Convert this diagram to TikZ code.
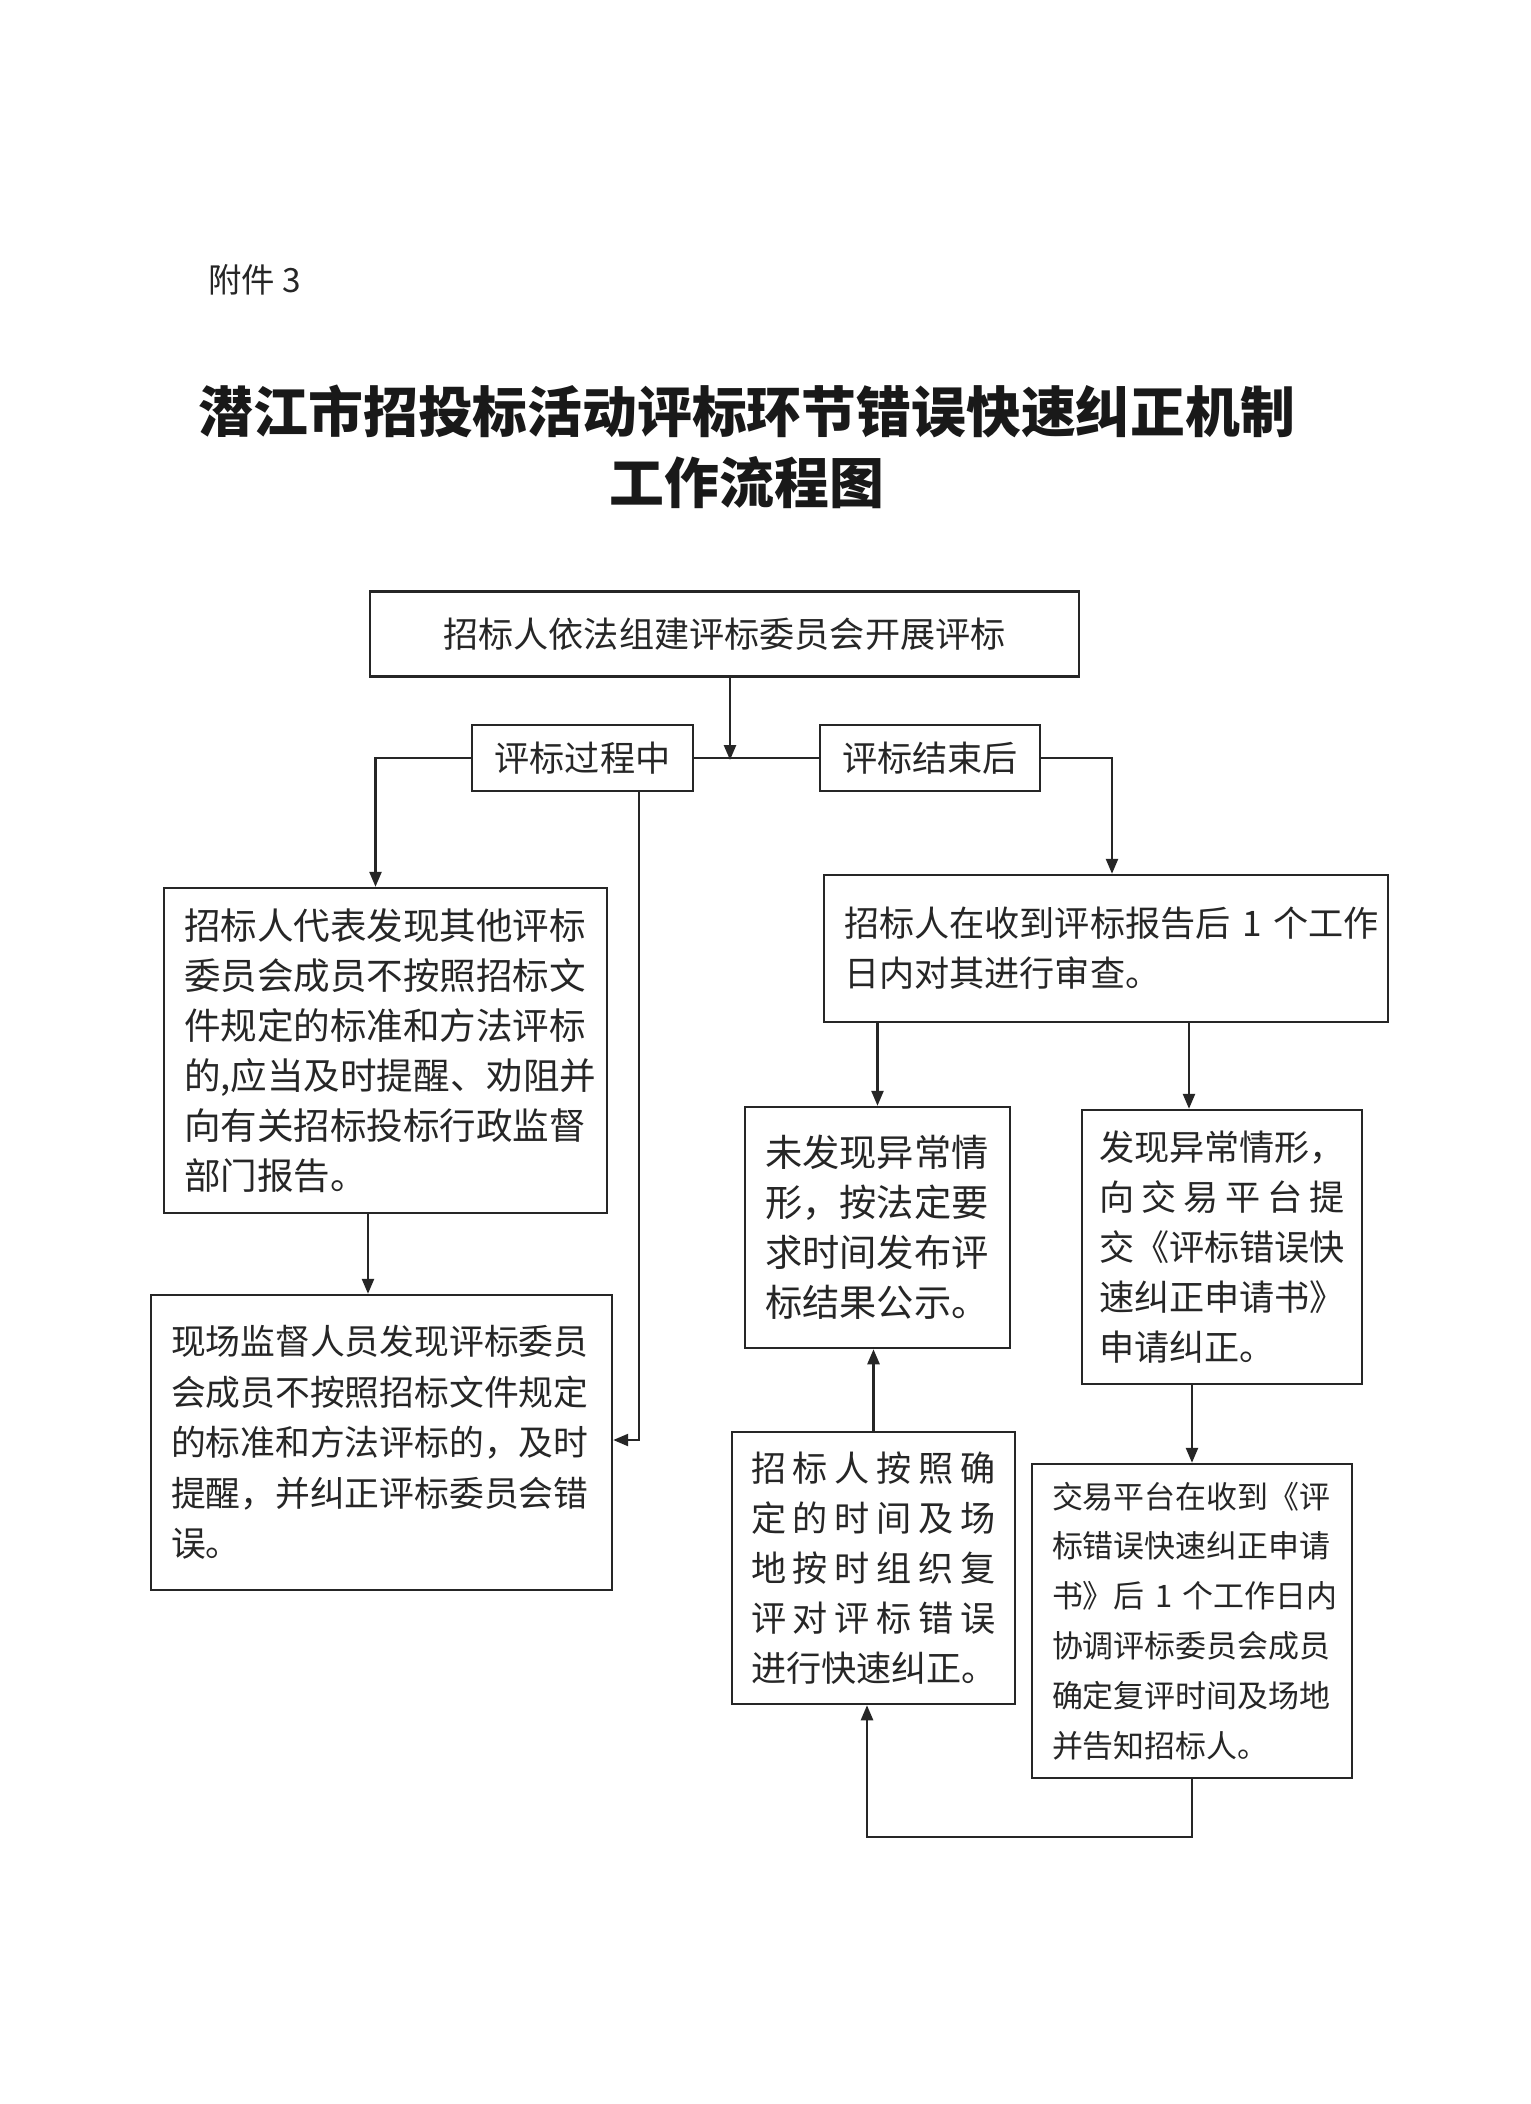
\documentclass[tikz,border=0pt]{standalone}
\usepackage{fontspec}
\setmainfont{Noto Sans CJK SC}
\usetikzlibrary{arrows.meta,positioning}

\tikzset{
  flowbox/.style={draw=black!85, line width=0.7pt, align=left, inner xsep=2mm, text=black!85,
                  font=\fontsize{10pt}{14.2pt}\selectfont},
  flowline/.style={draw=black!85, line width=0.7pt},
  flowarrow/.style={flowline, -{Triangle[length=1.5mm,width=1.2mm]}},
}
\newcommand{\spreadline}[2]{\makebox[#1][s]{#2}}

\begin{document}
\begin{tikzpicture}[x=0.1mm, y=-0.1mm]
  \fill[white] (0,0) rectangle (1530,2104);
  \useasboundingbox (0,0) rectangle (1530,2104);
  % Heading
  \node[anchor=west, text=black!85, font=\fontsize{9.5pt}{12pt}\selectfont] (annex) at (196,280) {附件 3};
  \node[align=center, text=black!90, font=\bfseries\fontsize{15.6pt}{20.2pt}\selectfont] (title) at (747,447)
        {潜江市招投标活动评标环节错误快速纠正机制\\工作流程图};
  % Start and the two phases
  \node[flowbox, align=center, minimum width=70.9mm, minimum height=8.5mm] (start) at (724.5,634)
        {招标人依法组建评标委员会开展评标};
  \node[flowbox, align=center, inner xsep=0pt, minimum width=22.1mm, minimum height=6.6mm] (during) at (582.5,758) {评标过程中};
  \node[flowbox, align=center, inner xsep=0pt, minimum width=22mm, minimum height=6.6mm] (after) at (930,758) {评标结束后};
  % Left branch
  \node[flowbox, minimum width=44.3mm, minimum height=32.5mm, text width=40.3mm,
        font=\fontsize{10.4pt}{14.2pt}\selectfont] (inspect) at (385.5,1050.5)
        {招标人代表发现其他评标\\委员会成员不按照招标文\\件规定的标准和方法评标\\的,应当及时提醒、劝阻并\\向有关招标投标行政监督\\部门报告。};
  \node[flowbox, minimum width=46.1mm, minimum height=29.5mm, text width=42.1mm,
        font=\fontsize{9.9pt}{14.4pt}\selectfont] (onsite) at (381.5,1442.5)
        {现场监督人员发现评标委员\\会成员不按照招标文件规定\\的标准和方法评标的，及时\\提醒，并纠正评标委员会错\\误。};
  % Right branch
  \node[flowbox, minimum width=56.4mm, minimum height=14.7mm, text width=52.4mm] (review) at (1106,948.5)
        {招标人在收到评标报告后~1~个工作\\日内对其进行审查。};
  \node[flowbox, minimum width=26.3mm, minimum height=24.1mm, text width=22.5mm,
        font=\fontsize{10.6pt}{14.2pt}\selectfont] (publish) at (877.5,1227.5)
        {未发现异常情\\形，按法定要\\求时间发布评\\标结果公示。};
  \node[flowbox, inner xsep=1.7mm, minimum width=28mm, minimum height=27.4mm, text width=24.6mm] (apply) at (1222,1247)
        {发现异常情形，\\\spreadline{24.6mm}{向\hfil 交\hfil 易\hfil 平\hfil 台\hfil 提}\\交《评标错误快\\速纠正申请书》\\申请纠正。};
  \node[flowbox, minimum width=32mm, minimum height=31.4mm, text width=28mm,
        font=\fontsize{8.8pt}{14.2pt}\selectfont] (arrange) at (1192,1621)
        {交易平台在收到《评\\标错误快速纠正申请\\书》后~1~个工作日内\\协调评标委员会成员\\确定复评时间及场地\\并告知招标人。};
  \node[flowbox, inner xsep=1.9mm, minimum width=28.3mm, minimum height=27.2mm, text width=24.5mm] (recheck) at (873.5,1568)
        {\spreadline{24.5mm}{招\hfil 标\hfil 人\hfil 按\hfil 照\hfil 确}\\
         \spreadline{24.5mm}{定\hfil 的\hfil 时\hfil 间\hfil 及\hfil 场}\\
         \spreadline{24.5mm}{地\hfil 按\hfil 时\hfil 组\hfil 织\hfil 复}\\
         \spreadline{24.5mm}{评\hfil 对\hfil 评\hfil 标\hfil 错\hfil 误}\\
         进行快速纠正。};
  % Connectors
  \coordinate (join) at (730,760);
  \draw[flowarrow] (start.south -| join) -- (join);
  \draw[flowline] (during.east) -- (after.west);
  \draw[flowarrow] (during.west) -| ([xshift=-1mm]inspect.north);
  \coordinate (inspectout) at ([xshift=-1.75mm]inspect.south);
  \draw[flowarrow] (inspectout) -- (inspectout |- onsite.north);
  \coordinate (lane) at (639,1440);
  \draw[flowarrow] (during.south -| lane) -- (lane) -- (onsite.east |- lane);
  \draw[flowarrow] (after.east) -| ([xshift=0.6mm]review.north);
  \draw[flowarrow] (review.south -| publish.north) -- (publish.north);
  \coordinate (applyin) at ([xshift=-3.3mm]apply.north);
  \draw[flowarrow] (review.south -| applyin) -- (applyin);
  \draw[flowarrow] (apply.south -| arrange.north) -- (arrange.north);
  \draw[flowarrow] (recheck.north) -- (recheck.north |- publish.south);
  \draw[flowarrow] (arrange.south) -- ++(0,58) -| ([xshift=-0.65mm]recheck.south);
\end{tikzpicture}
\end{document}
